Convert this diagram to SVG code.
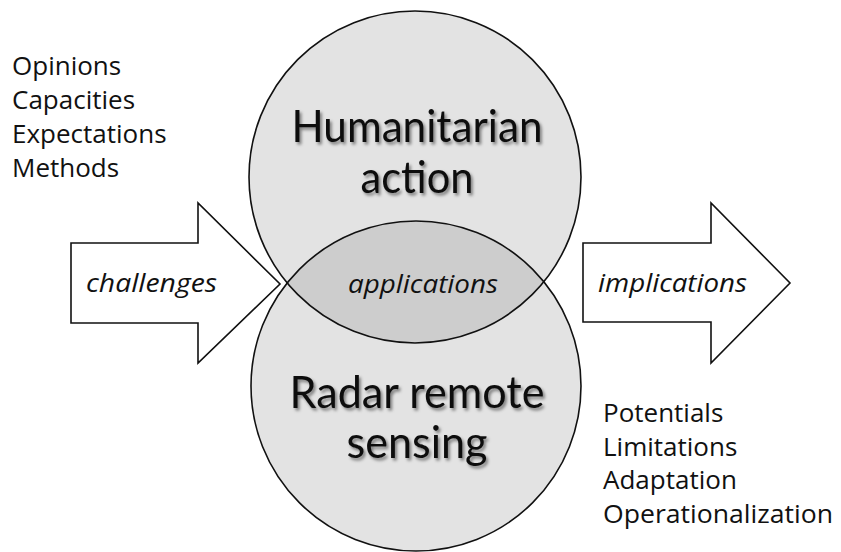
<svg xmlns="http://www.w3.org/2000/svg" width="841" height="552" viewBox="0 0 841 552">
<style>
.list{font-family:"Open Sans","Noto Sans","Liberation Sans",sans-serif;font-size:26px;fill:#111}
.big{font-family:Lato,"Open Sans","Liberation Sans",sans-serif;font-size:44px;fill:#111;text-anchor:middle}
.it{font-family:"Open Sans","Noto Sans","Liberation Sans",sans-serif;font-size:26px;font-style:italic;fill:#111;text-anchor:middle}
.outline{fill:none;stroke:#111;stroke-width:1.6}
.arrow{fill:#fff;stroke:#111;stroke-width:1.6;stroke-linejoin:miter}
</style>
<defs>
<filter id="sh" x="-10%" y="-20%" width="120%" height="150%">
<feDropShadow dx="2" dy="2.5" stdDeviation="1.5" flood-color="#000" flood-opacity="0.45"/>
</filter>
<clipPath id="topclip"><circle cx="415" cy="177" r="166"/></clipPath>
</defs>
<rect width="841" height="552" fill="#fff"/>
<g id="humanitarian">
<circle cx="415" cy="177" r="166" fill="#e3e3e3"/>
</g>
<g id="radar">
<circle cx="416" cy="386" r="165" fill="#e3e3e3"/>
</g>
<g id="applications">
<circle cx="416" cy="386" r="165" fill="#cdcdcd" clip-path="url(#topclip)"/>
</g>
<circle class="outline" cx="415" cy="177" r="166"/>
<circle class="outline" cx="416" cy="386" r="165"/>
<text class="big" x="417" y="142" filter="url(#sh)" textLength="251" lengthAdjust="spacingAndGlyphs">Humanitarian</text>
<text class="big" x="417" y="193" filter="url(#sh)" textLength="113" lengthAdjust="spacingAndGlyphs">action</text>
<text class="big" x="417" y="408" filter="url(#sh)" textLength="255" lengthAdjust="spacingAndGlyphs">Radar remote</text>
<text class="big" x="417" y="458" filter="url(#sh)" textLength="141" lengthAdjust="spacingAndGlyphs">sensing</text>
<text class="it" x="423" y="293" textLength="150" lengthAdjust="spacingAndGlyphs">applications</text>
<g id="connectors">
<g id="challenges">
<polygon class="arrow" points="71,243 198,243 198,203 280,284 198,363 198,323 71,323"/>
<text class="it" x="151.5" y="292" textLength="131" lengthAdjust="spacingAndGlyphs">challenges</text>
</g>
<g id="implications">
<polygon class="arrow" points="583,243 711,243 711,203 790,283 711,363 711,322 583,322"/>
<text class="it" x="672.5" y="292" textLength="149" lengthAdjust="spacingAndGlyphs">implications</text>
</g>
</g>
<g id="inputs">
<text class="list" x="12" y="75">Opinions</text>
<text class="list" x="12" y="109">Capacities</text>
<text class="list" x="12" y="143">Expectations</text>
<text class="list" x="12" y="177">Methods</text>
</g>
<g id="outputs">
<text class="list" x="603" y="422">Potentials</text>
<text class="list" x="603" y="456">Limitations</text>
<text class="list" x="603" y="489">Adaptation</text>
<text class="list" x="603" y="523" textLength="230" lengthAdjust="spacingAndGlyphs">Operationalization</text>
</g>
</svg>
